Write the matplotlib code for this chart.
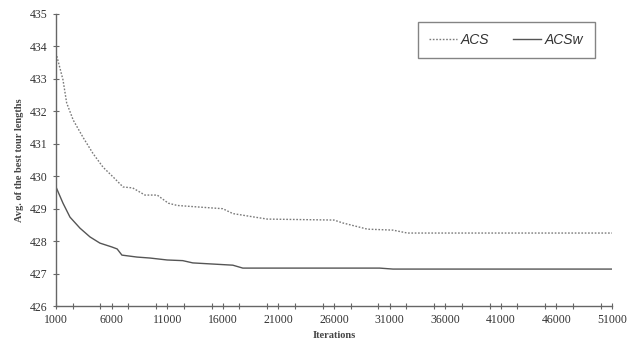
import matplotlib.pyplot as plt
from matplotlib.ticker import MultipleLocator

# iterations and average best tour lengths
acs_iter = [1000, 1630, 1960, 2550, 3430, 4330, 5230, 6130, 7030, 7900, 9000, 10100,
            11100, 11900, 13900, 16000, 16900, 18700, 20000, 26000, 26800, 29000,
            31300, 32600, 35500, 51000]
acs_vals = [433.8, 432.97, 432.26, 431.73, 431.2, 430.7, 430.28, 429.98, 429.67, 429.64,
            429.42, 429.42, 429.17, 429.1, 429.05, 429.0, 428.85, 428.75, 428.68, 428.65,
            428.56, 428.37, 428.34, 428.25, 428.25, 428.25]

acsw_iter = [1000, 1630, 2260, 3160, 4060, 4950, 6030, 6500, 6930, 8280, 9450, 11000,
             12400, 13300, 16900, 17800, 30100, 31300, 36200, 51000]
acsw_vals = [429.67, 429.17, 428.74, 428.4, 428.13, 427.94, 427.82, 427.76, 427.57, 427.51,
             427.48, 427.42, 427.4, 427.33, 427.26, 427.17, 427.17, 427.14, 427.14, 427.14]

x_ticks = [1000, 6000, 11000, 16000, 21000, 26000, 31000, 36000, 41000, 46000, 51000]

fig = plt.figure(figsize=(6.29, 3.49), dpi=100)
ax = fig.add_axes([0.089, 0.123, 0.884, 0.837])

ax.plot(acs_iter, acs_vals, color="#7a7a7a", lw=1.0, ls=(0, (1.2, 1.2)), label="ACS")
ax.plot(acsw_iter, acsw_vals, color="#555555", lw=1.0, label="ACSw")

ax.set_xlim(1000, 51000)
ax.set_ylim(426, 435)
ax.set_xticks(x_ticks)
ax.xaxis.set_minor_locator(MultipleLocator(2500))
ax.yaxis.set_major_locator(MultipleLocator(1))

for s in ("top", "right"):
    ax.spines[s].set_visible(False)
for s in ("left", "bottom"):
    ax.spines[s].set_color("#666666")
    ax.spines[s].set_linewidth(1.0)

ax.tick_params(axis="both", which="both", direction="inout", length=5, width=0.8,
               colors="#666666", labelcolor="#333333", labelsize=8.5)
for lab in ax.get_xticklabels() + ax.get_yticklabels():
    lab.set_family("Liberation Serif")

ax.set_xlabel("Iterations", family="Liberation Serif", fontsize=7.5, weight="bold",
              color="#444444", labelpad=3)
ax.set_ylabel("Avg. of the best tour lengths", family="Liberation Serif", fontsize=7.5,
              weight="bold", color="#444444", labelpad=4)

leg = ax.legend(loc="upper right", bbox_to_anchor=(0.969, 0.973), borderaxespad=0,
                ncol=2, frameon=True, fancybox=False, handlelength=2.0,
                handletextpad=0.3, columnspacing=1.7, borderpad=0.8,
                prop={"family": "Liberation Sans", "style": "italic", "size": 10})
leg.get_frame().set_edgecolor("#666666")
leg.get_frame().set_linewidth(1.0)
for t in leg.get_texts():
    t.set_color("#333333")

fig.savefig("out.png", dpi=100)
